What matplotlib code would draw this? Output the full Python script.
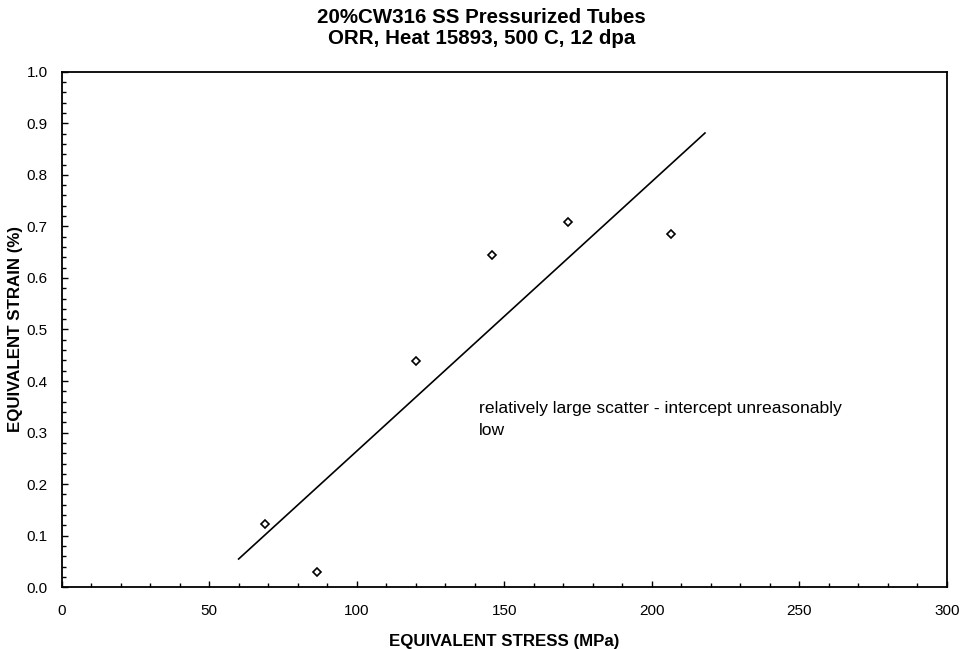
import matplotlib
matplotlib.use('Agg')
import matplotlib.pyplot as plt
import numpy as np
from matplotlib.ticker import MultipleLocator

plt.rcParams['font.family'] = ['Liberation Sans', 'DejaVu Sans']

# Measured tube data
stress_mpa = [68.9, 86.6, 120.2, 145.8, 171.5, 206.4]
strain_pct = [0.122, 0.029, 0.439, 0.644, 0.708, 0.685]

# Range over which the linear fit is drawn
fit_range = [60.0, 218.0]

title = '20%CW316 SS Pressurized Tubes\nORR, Heat 15893, 500 C, 12 dpa'
note = 'relatively large scatter - intercept unreasonably\nlow'

# Least squares fit of strain against stress
slope, intercept = np.polyfit(stress_mpa, strain_pct, 1)
fit_x = np.array(fit_range)
fit_y = slope * fit_x + intercept

fig = plt.figure(figsize=(9.63, 6.49), dpi=100)
ax = fig.add_axes([0.0639, 0.0951, 0.9195, 0.7944])

ax.plot(fit_x, fit_y, color='black', linewidth=1.2)
ax.plot(stress_mpa, strain_pct, linestyle='none', marker='D', markersize=4.5,
        markerfacecolor='white', markeredgecolor='black', markeredgewidth=1.2)

ax.set_xlim(0, 300)
ax.set_ylim(0, 1.0)
ax.xaxis.set_major_locator(MultipleLocator(50))
ax.xaxis.set_minor_locator(MultipleLocator(10))
ax.yaxis.set_major_locator(MultipleLocator(0.1))
ax.yaxis.set_minor_locator(MultipleLocator(0.02))
ax.yaxis.set_major_formatter(plt.FuncFormatter(lambda v, p: f'{v:.1f}'))
ax.tick_params(which='both', direction='in', width=1.0, labelsize=11)
ax.tick_params(which='major', length=4, pad=12)
ax.tick_params(which='minor', length=3)
ax.tick_params(axis='y', which='major', pad=10)
for side in ax.spines.values():
    side.set_linewidth(1.3)

ax.text(141.5, 0.362, note, fontsize=12.6, va='top', ha='left', linespacing=1.6)

ax.set_xlabel('EQUIVALENT STRESS (MPa)', fontsize=12.2, fontweight='bold')
ax.set_ylabel('EQUIVALENT STRAIN (%)', fontsize=12.2, fontweight='bold')
ax.xaxis.set_label_coords(0.5, -0.091)
ax.yaxis.set_label_coords(-0.043, 0.5)
fig.suptitle(title, fontsize=14.8, fontweight='bold', y=0.988, linespacing=1.15)

fig.savefig('out.png', dpi=100)
